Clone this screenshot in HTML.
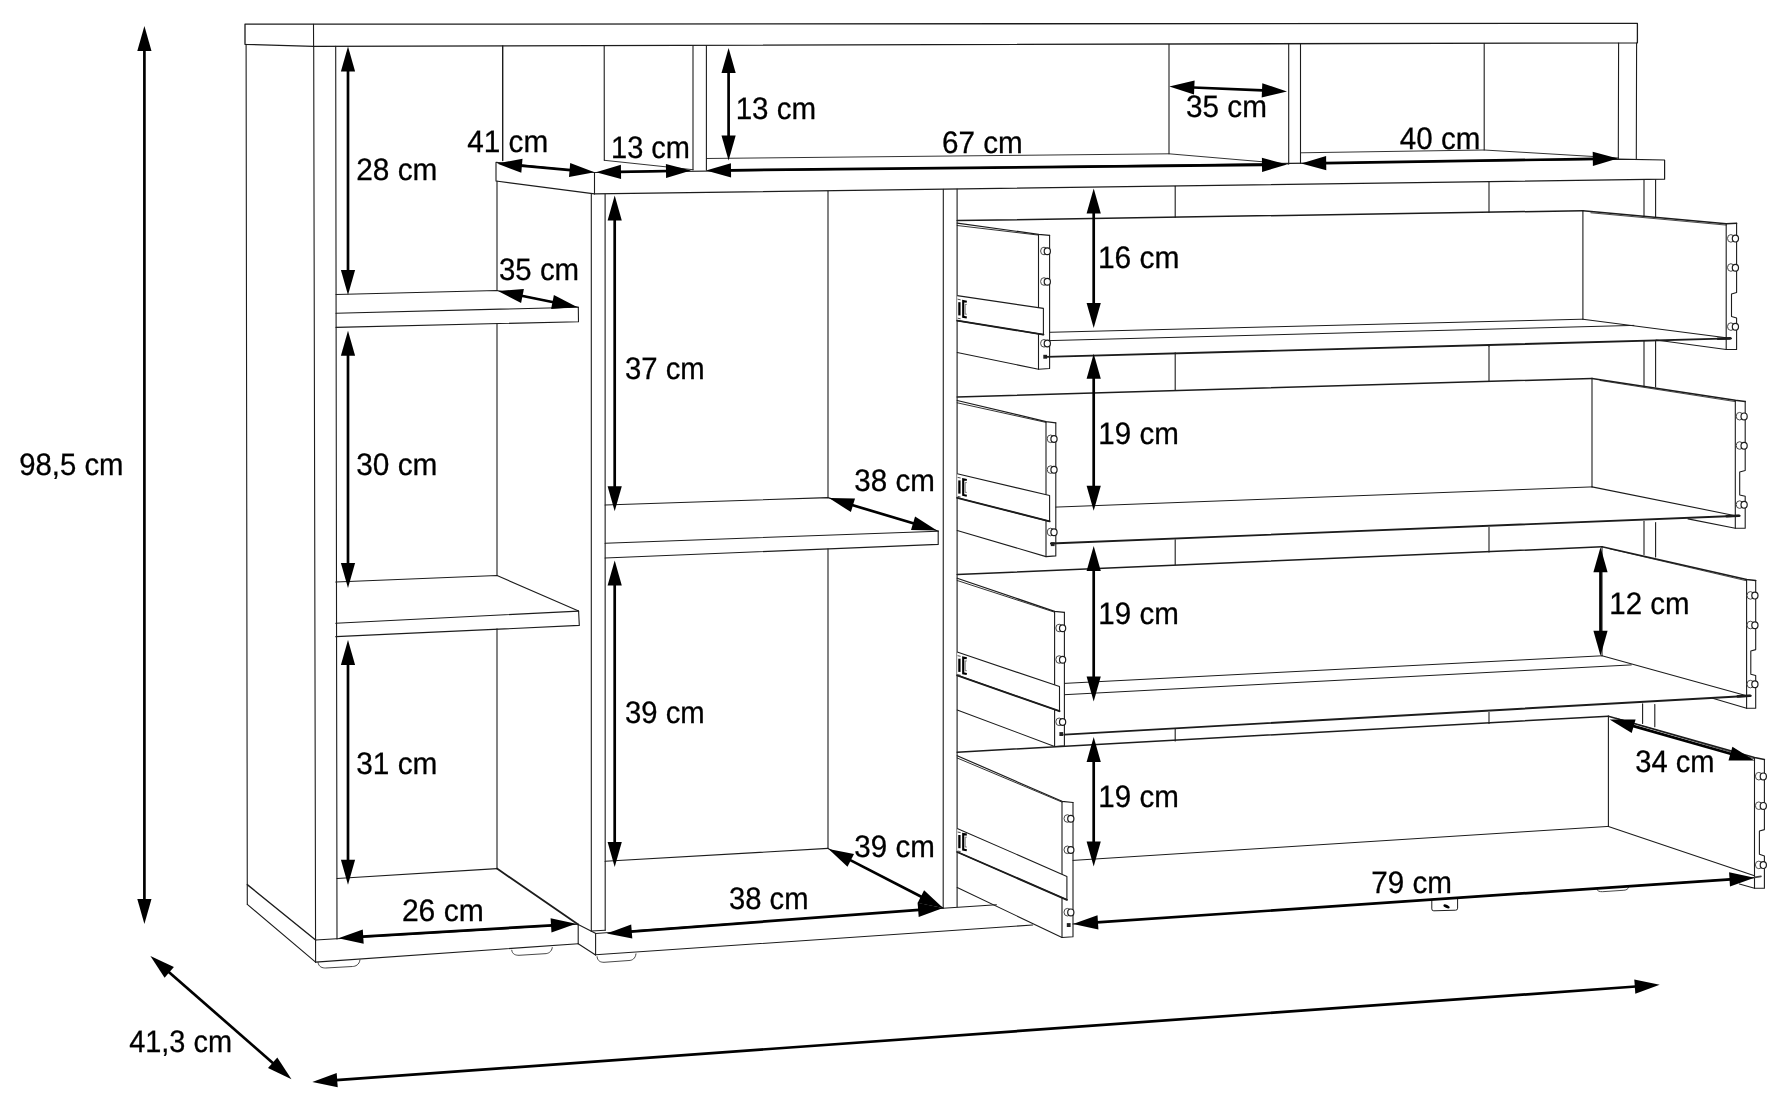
<!DOCTYPE html>
<html><head><meta charset="utf-8"><title>Sideboard dimensions</title>
<style>
html,body{margin:0;padding:0;background:#fff;}
body{width:1788px;height:1108px;overflow:hidden;font-family:"Liberation Sans",sans-serif;}
svg{display:block}
text{font-family:"Liberation Sans",sans-serif;fill:#000;stroke:#000;stroke-width:0.3px;text-rendering:geometricPrecision;}
#labels{filter:grayscale(1)}
</style></head><body>
<svg width="1788" height="1108" viewBox="0 0 1788 1108">
<rect width="1788" height="1108" fill="#fff"/>
<g id="lines">
<path d="M245.0 24.2 L1637.4 23.4 L1637.4 42.8 L313.6 46.3 L245.0 44.3 Z" fill="none" stroke="#1c1c1c" stroke-width="1.3" stroke-linejoin="round" stroke-linecap="round"/>
<line x1="313.5" y1="24.2" x2="313.6" y2="46.3" stroke="#1c1c1c" stroke-width="1.1" stroke-linecap="round"/>
<line x1="246.1" y1="44.3" x2="247.3" y2="904.3" stroke="#1c1c1c" stroke-width="1.1" stroke-linecap="round"/>
<line x1="313.7" y1="46.3" x2="315.6" y2="962.1" stroke="#1c1c1c" stroke-width="1.1" stroke-linecap="round"/>
<line x1="335.7" y1="46.3" x2="337.0" y2="939.0" stroke="#1c1c1c" stroke-width="1.1" stroke-linecap="round"/>
<line x1="247.3" y1="884.6" x2="315.6" y2="940.0" stroke="#1c1c1c" stroke-width="1.4" stroke-linecap="round"/>
<line x1="247.3" y1="904.3" x2="315.6" y2="962.1" stroke="#1c1c1c" stroke-width="1.1" stroke-linecap="round"/>
<line x1="315.6" y1="940.0" x2="578.2" y2="924.3" stroke="#1c1c1c" stroke-width="1.1" stroke-linecap="round"/>
<line x1="315.6" y1="962.1" x2="578.2" y2="943.7" stroke="#1c1c1c" stroke-width="1.1" stroke-linecap="round"/>
<line x1="578.2" y1="924.3" x2="578.2" y2="943.7" stroke="#1c1c1c" stroke-width="1.1" stroke-linecap="round"/>
<path d="M318.0 962.0 C318.5 967.2 322.6 968.0 325.6 968.0 L352.4 966.5 C355.4 966.5 359.5 964.7 360.0 959.5" fill="none" stroke="#333" stroke-width="0.9"/>
<path d="M511.7 949.8 C512.2 954.6 516.0 955.3 519.0 955.3 L545.0 953.7 C548.0 953.7 551.8 952.0 552.3 947.2" fill="none" stroke="#333" stroke-width="0.9"/>
<line x1="578.2" y1="924.5" x2="595.4" y2="933.3" stroke="#1c1c1c" stroke-width="1.1" stroke-linecap="round"/>
<line x1="578.2" y1="943.7" x2="595.6" y2="955.0" stroke="#1c1c1c" stroke-width="1.1" stroke-linecap="round"/>
<line x1="502.7" y1="46.0" x2="502.7" y2="160.5" stroke="#1c1c1c" stroke-width="1.4" stroke-linecap="round"/>
<line x1="497.0" y1="181.0" x2="497.0" y2="290.5" stroke="#1c1c1c" stroke-width="1.1" stroke-linecap="round"/>
<line x1="497.0" y1="323.6" x2="497.0" y2="575.5" stroke="#1c1c1c" stroke-width="1.1" stroke-linecap="round"/>
<line x1="497.0" y1="628.9" x2="497.0" y2="868.6" stroke="#1c1c1c" stroke-width="1.1" stroke-linecap="round"/>
<line x1="591.3" y1="194.0" x2="591.3" y2="931.0" stroke="#1c1c1c" stroke-width="1.1" stroke-linecap="round"/>
<line x1="605.1" y1="194.3" x2="605.2" y2="930.2" stroke="#1c1c1c" stroke-width="1.1" stroke-linecap="round"/>
<line x1="591.3" y1="931.0" x2="605.2" y2="930.2" stroke="#1c1c1c" stroke-width="1.1" stroke-linecap="round"/>
<path d="M336.0 294.5 L497.0 290.5 L578.3 307.2" fill="none" stroke="#1c1c1c" stroke-width="1.1" stroke-linejoin="round" stroke-linecap="round"/>
<line x1="336.0" y1="313.3" x2="578.3" y2="307.2" stroke="#1c1c1c" stroke-width="1.1" stroke-linecap="round"/>
<path d="M336.0 327.4 L578.5 321.7 L578.3 307.2" fill="none" stroke="#1c1c1c" stroke-width="1.1" stroke-linejoin="round" stroke-linecap="round"/>
<path d="M335.8 582.0 L497.0 575.5 L578.6 611.1" fill="none" stroke="#1c1c1c" stroke-width="1.1" stroke-linejoin="round" stroke-linecap="round"/>
<line x1="335.8" y1="623.2" x2="578.6" y2="611.1" stroke="#1c1c1c" stroke-width="1.1" stroke-linecap="round"/>
<path d="M335.8 636.6 L579.3 625.4 L578.6 611.1" fill="none" stroke="#1c1c1c" stroke-width="1.1" stroke-linejoin="round" stroke-linecap="round"/>
<line x1="337.0" y1="878.5" x2="497.0" y2="868.6" stroke="#1c1c1c" stroke-width="1.1" stroke-linecap="round"/>
<line x1="497.0" y1="868.6" x2="578.2" y2="924.5" stroke="#1c1c1c" stroke-width="1.8" stroke-linecap="round"/>
<path d="M496.0 162.2 L594.5 172.5 L594.5 193.9 L496.0 181.0 Z" fill="none" stroke="#1c1c1c" stroke-width="1.1" stroke-linejoin="round" stroke-linecap="round"/>
<path d="M594.5 172.5 L1618.0 159.2 L1664.6 160.0 L1664.6 179.2 L594.5 193.9" fill="none" stroke="#1c1c1c" stroke-width="1.2" stroke-linejoin="round" stroke-linecap="round"/>
<line x1="693.0" y1="45.6" x2="693.0" y2="169.7" stroke="#1c1c1c" stroke-width="1.1" stroke-linecap="round"/>
<line x1="706.4" y1="45.6" x2="706.4" y2="170.3" stroke="#1c1c1c" stroke-width="1.1" stroke-linecap="round"/>
<line x1="1288.7" y1="44.0" x2="1288.7" y2="164.0" stroke="#1c1c1c" stroke-width="1.1" stroke-linecap="round"/>
<line x1="1300.5" y1="44.0" x2="1300.5" y2="163.5" stroke="#1c1c1c" stroke-width="1.1" stroke-linecap="round"/>
<line x1="1618.6" y1="43.0" x2="1618.3" y2="159.0" stroke="#1c1c1c" stroke-width="1.1" stroke-linecap="round"/>
<line x1="1636.6" y1="43.0" x2="1636.3" y2="158.6" stroke="#1c1c1c" stroke-width="1.1" stroke-linecap="round"/>
<line x1="604.2" y1="45.6" x2="604.3" y2="160.3" stroke="#1c1c1c" stroke-width="1.1" stroke-linecap="round"/>
<line x1="1169.0" y1="44.5" x2="1169.0" y2="153.8" stroke="#1c1c1c" stroke-width="1.1" stroke-linecap="round"/>
<line x1="1484.2" y1="43.5" x2="1484.2" y2="150.0" stroke="#1c1c1c" stroke-width="1.1" stroke-linecap="round"/>
<line x1="604.3" y1="160.3" x2="693.0" y2="169.7" stroke="#1c1c1c" stroke-width="0.9" stroke-linecap="round"/>
<path d="M706.4 158.5 L1169.0 153.8 L1288.7 164.0" fill="none" stroke="#1c1c1c" stroke-width="0.9" stroke-linejoin="round" stroke-linecap="round"/>
<path d="M1301.0 152.8 L1484.2 150.0 L1618.5 158.0" fill="none" stroke="#1c1c1c" stroke-width="0.9" stroke-linejoin="round" stroke-linecap="round"/>
<line x1="828.0" y1="191.4" x2="828.0" y2="497.6" stroke="#1c1c1c" stroke-width="1.1" stroke-linecap="round"/>
<line x1="828.0" y1="548.9" x2="828.0" y2="848.4" stroke="#1c1c1c" stroke-width="1.1" stroke-linecap="round"/>
<path d="M605.1 505.0 L828.0 497.6 L938.2 531.0" fill="none" stroke="#1c1c1c" stroke-width="1.1" stroke-linejoin="round" stroke-linecap="round"/>
<line x1="605.1" y1="543.2" x2="938.2" y2="531.2" stroke="#1c1c1c" stroke-width="1.1" stroke-linecap="round"/>
<path d="M605.1 558.0 L938.2 544.4 L938.2 531.0" fill="none" stroke="#1c1c1c" stroke-width="1.1" stroke-linejoin="round" stroke-linecap="round"/>
<line x1="605.1" y1="861.2" x2="828.0" y2="848.4" stroke="#1c1c1c" stroke-width="1.1" stroke-linecap="round"/>
<line x1="828.0" y1="848.4" x2="943.1" y2="908.0" stroke="#1c1c1c" stroke-width="1.1" stroke-linecap="round"/>
<line x1="943.3" y1="189.2" x2="943.2" y2="908.3" stroke="#1c1c1c" stroke-width="1.1" stroke-linecap="round"/>
<line x1="957.1" y1="189.0" x2="957.1" y2="906.8" stroke="#1c1c1c" stroke-width="1.1" stroke-linecap="round"/>
<line x1="595.6" y1="933.5" x2="595.6" y2="955.0" stroke="#1c1c1c" stroke-width="1.1" stroke-linecap="round"/>
<line x1="595.6" y1="933.5" x2="943.0" y2="908.3" stroke="#1c1c1c" stroke-width="1.1" stroke-linecap="round"/>
<line x1="943.0" y1="908.3" x2="996.4" y2="904.7" stroke="#1c1c1c" stroke-width="1.1" stroke-linecap="round"/>
<line x1="595.6" y1="954.8" x2="1032.7" y2="925.0" stroke="#1c1c1c" stroke-width="1.1" stroke-linecap="round"/>
<path d="M597.0 956.3 C597.5 961.5 601.0 962.3 604.0 962.3 L629.0 960.5 C632.0 960.5 635.5 958.7 636.0 953.5" fill="none" stroke="#333" stroke-width="0.9"/>
<line x1="1644.0" y1="180.0" x2="1644.0" y2="216.0" stroke="#1c1c1c" stroke-width="1.1" stroke-linecap="round"/>
<line x1="1655.6" y1="179.7" x2="1655.6" y2="217.0" stroke="#1c1c1c" stroke-width="1.1" stroke-linecap="round"/>
<line x1="1644.0" y1="341.4" x2="1644.0" y2="385.7" stroke="#1c1c1c" stroke-width="1.1" stroke-linecap="round"/>
<line x1="1655.6" y1="341.4" x2="1655.6" y2="387.0" stroke="#1c1c1c" stroke-width="1.1" stroke-linecap="round"/>
<line x1="1644.0" y1="521.4" x2="1644.0" y2="554.6" stroke="#1c1c1c" stroke-width="1.1" stroke-linecap="round"/>
<line x1="1655.6" y1="522.6" x2="1655.6" y2="557.0" stroke="#1c1c1c" stroke-width="1.1" stroke-linecap="round"/>
<line x1="1642.6" y1="703.8" x2="1642.6" y2="723.5" stroke="#1c1c1c" stroke-width="1.1" stroke-linecap="round"/>
<line x1="1654.8" y1="704.6" x2="1654.8" y2="726.7" stroke="#1c1c1c" stroke-width="1.1" stroke-linecap="round"/>
<line x1="1175.2" y1="186.3" x2="1175.2" y2="217.2" stroke="#1c1c1c" stroke-width="1.1" stroke-linecap="round"/>
<line x1="1175.2" y1="352.8" x2="1175.2" y2="390.4" stroke="#1c1c1c" stroke-width="1.1" stroke-linecap="round"/>
<line x1="1175.2" y1="539.8" x2="1175.2" y2="564.8" stroke="#1c1c1c" stroke-width="1.1" stroke-linecap="round"/>
<line x1="1175.2" y1="728.5" x2="1175.2" y2="741.0" stroke="#1c1c1c" stroke-width="1.1" stroke-linecap="round"/>
<line x1="1489.0" y1="182.0" x2="1489.0" y2="212.2" stroke="#1c1c1c" stroke-width="1.1" stroke-linecap="round"/>
<line x1="1489.0" y1="346.3" x2="1489.0" y2="381.5" stroke="#1c1c1c" stroke-width="1.1" stroke-linecap="round"/>
<line x1="1489.0" y1="527.5" x2="1489.0" y2="552.0" stroke="#1c1c1c" stroke-width="1.1" stroke-linecap="round"/>
<line x1="1489.0" y1="712.5" x2="1489.0" y2="723.5" stroke="#1c1c1c" stroke-width="1.1" stroke-linecap="round"/>
<path d="M957.2 220.6 L1582.9 210.7" fill="none" stroke="#1c1c1c" stroke-width="1.5" stroke-linejoin="round" stroke-linecap="round"/>
<line x1="1582.9" y1="210.7" x2="1582.9" y2="319.2" stroke="#1c1c1c" stroke-width="1.1" stroke-linecap="round"/>
<path d="M957.2 223.2 L1038.5 234.3 L1049.6 235.4" fill="none" stroke="#1c1c1c" stroke-width="1.2" stroke-linejoin="round" stroke-linecap="round"/>
<line x1="957.2" y1="225.5" x2="1038.5" y2="235.1" stroke="#1c1c1c" stroke-width="0.9" stroke-linecap="round"/>
<path d="M1038.5 234.3 L1038.5 369.2 L1049.6 368.5 L1049.6 235.4" fill="none" stroke="#1c1c1c" stroke-width="1.1" stroke-linejoin="round" stroke-linecap="round"/>
<ellipse cx="1044.0" cy="251.0" rx="3.4" ry="3.8" fill="#fff" stroke="#4a4a4a" stroke-width="1"/>
<ellipse cx="1047.3" cy="251.2" rx="3.1" ry="3.4" fill="#fff" stroke="#1c1c1c" stroke-width="1.2"/>
<ellipse cx="1044.0" cy="281.5" rx="3.4" ry="3.8" fill="#fff" stroke="#4a4a4a" stroke-width="1"/>
<ellipse cx="1047.3" cy="281.7" rx="3.1" ry="3.4" fill="#fff" stroke="#1c1c1c" stroke-width="1.2"/>
<ellipse cx="1044.0" cy="343.3" rx="3.4" ry="3.8" fill="#fff" stroke="#4a4a4a" stroke-width="1"/>
<ellipse cx="1047.3" cy="343.5" rx="3.1" ry="3.4" fill="#fff" stroke="#1c1c1c" stroke-width="1.2"/>
<path d="M957.2 295.6 L1043.4 308.4 L1043.4 334.6 L957.2 320.6" fill="#fff" stroke="#1c1c1c" stroke-width="1.1" stroke-linejoin="round"/>
<line x1="957.2" y1="320.6" x2="1043.4" y2="334.6" stroke="#1c1c1c" stroke-width="1.9" stroke-linecap="round"/>
<path d="M959.4 302.2 v13.2" fill="none" stroke="#000" stroke-width="2.3"/>
<path d="M966.8 301.8 L963.2 301.1 V316.8 L966.8 317.5" fill="none" stroke="#000" stroke-width="2.1"/>
<path d="M966.8 304.4 H965.2 V314.2 H966.8" fill="none" stroke="#444" stroke-width="0.7"/>
<path d="M957.6 299.2 l3 0.6 M957.6 318.2 l3 0.6" fill="none" stroke="#333" stroke-width="0.9"/>
<line x1="957.2" y1="352.5" x2="1038.5" y2="369.2" stroke="#1c1c1c" stroke-width="1.1" stroke-linecap="round"/>
<rect x="1043.3" y="354.8" width="3.8" height="3.9" fill="#222"/>
<line x1="1049.6" y1="332.3" x2="1582.9" y2="319.2" stroke="#1c1c1c" stroke-width="1" stroke-linecap="round"/>
<line x1="1049.6" y1="340.6" x2="1633.8" y2="325.4" stroke="#1c1c1c" stroke-width="1" stroke-linecap="round"/>
<line x1="1046.0" y1="356.9" x2="1731.0" y2="338.4" stroke="#1c1c1c" stroke-width="1.9" stroke-linecap="round"/>
<line x1="1718.0" y1="338.8" x2="1730.0" y2="338.4" stroke="#1c1c1c" stroke-width="2.6" stroke-linecap="round"/>
<path d="M1582.9 210.7 L1726.2 223.7 L1736.6 223.3" fill="none" stroke="#1c1c1c" stroke-width="1.5" stroke-linejoin="round" stroke-linecap="round"/>
<line x1="1590.9" y1="212.8" x2="1726.2" y2="225.1" stroke="#1c1c1c" stroke-width="0.8" stroke-linecap="round"/>
<path d="M1726.2 223.7 L1726.2 349.5 L1736.6 349.5 L1736.6 318.0 L1731.5 316.5 L1731.5 294.0 L1736.6 292.5 L1736.6 223.3" fill="none" stroke="#1c1c1c" stroke-width="1.1" stroke-linejoin="round" stroke-linecap="round"/>
<ellipse cx="1730.9" cy="238.4" rx="3.4" ry="3.8" fill="#fff" stroke="#4a4a4a" stroke-width="1"/>
<ellipse cx="1735.4" cy="238.6" rx="3.1" ry="3.4" fill="#fff" stroke="#1c1c1c" stroke-width="1.2"/>
<ellipse cx="1730.9" cy="267.5" rx="3.4" ry="3.8" fill="#fff" stroke="#4a4a4a" stroke-width="1"/>
<ellipse cx="1735.4" cy="267.7" rx="3.1" ry="3.4" fill="#fff" stroke="#1c1c1c" stroke-width="1.2"/>
<ellipse cx="1730.9" cy="326.6" rx="3.4" ry="3.8" fill="#fff" stroke="#4a4a4a" stroke-width="1"/>
<ellipse cx="1735.4" cy="326.8" rx="3.1" ry="3.4" fill="#fff" stroke="#1c1c1c" stroke-width="1.2"/>
<line x1="1582.9" y1="319.2" x2="1726.2" y2="337.7" stroke="#1c1c1c" stroke-width="1.1" stroke-linecap="round"/>
<line x1="1656.0" y1="340.0" x2="1726.2" y2="349.5" stroke="#1c1c1c" stroke-width="1.1" stroke-linecap="round"/>
<path d="M957.2 397.0 L1592.0 378.4" fill="none" stroke="#1c1c1c" stroke-width="1.5" stroke-linejoin="round" stroke-linecap="round"/>
<line x1="1592.0" y1="378.4" x2="1592.0" y2="486.9" stroke="#1c1c1c" stroke-width="1.1" stroke-linecap="round"/>
<path d="M957.2 400.5 L1046.0 421.6 L1055.8 422.8" fill="none" stroke="#1c1c1c" stroke-width="1.2" stroke-linejoin="round" stroke-linecap="round"/>
<line x1="957.2" y1="402.8" x2="1046.0" y2="422.4" stroke="#1c1c1c" stroke-width="0.9" stroke-linecap="round"/>
<path d="M1046.0 421.6 L1046.0 556.6 L1055.8 555.9 L1055.8 422.8" fill="none" stroke="#1c1c1c" stroke-width="1.1" stroke-linejoin="round" stroke-linecap="round"/>
<ellipse cx="1050.6" cy="438.8" rx="3.4" ry="3.8" fill="#fff" stroke="#4a4a4a" stroke-width="1"/>
<ellipse cx="1054.0" cy="439.0" rx="3.1" ry="3.4" fill="#fff" stroke="#1c1c1c" stroke-width="1.2"/>
<ellipse cx="1050.6" cy="469.6" rx="3.4" ry="3.8" fill="#fff" stroke="#4a4a4a" stroke-width="1"/>
<ellipse cx="1054.0" cy="469.8" rx="3.1" ry="3.4" fill="#fff" stroke="#1c1c1c" stroke-width="1.2"/>
<ellipse cx="1050.6" cy="532.0" rx="3.4" ry="3.8" fill="#fff" stroke="#4a4a4a" stroke-width="1"/>
<ellipse cx="1054.0" cy="532.2" rx="3.1" ry="3.4" fill="#fff" stroke="#1c1c1c" stroke-width="1.2"/>
<path d="M957.2 473.8 L1049.6 495.5 L1049.6 521.4 L957.2 497.8" fill="#fff" stroke="#1c1c1c" stroke-width="1.1" stroke-linejoin="round"/>
<line x1="957.2" y1="497.8" x2="1049.6" y2="521.4" stroke="#1c1c1c" stroke-width="1.9" stroke-linecap="round"/>
<path d="M959.4 480.4 v13.2" fill="none" stroke="#000" stroke-width="2.3"/>
<path d="M966.8 480.0 L963.2 479.3 V495.0 L966.8 495.7" fill="none" stroke="#000" stroke-width="2.1"/>
<path d="M966.8 482.6 H965.2 V492.4 H966.8" fill="none" stroke="#444" stroke-width="0.7"/>
<path d="M957.6 477.4 l3 0.6 M957.6 496.4 l3 0.6" fill="none" stroke="#333" stroke-width="0.9"/>
<line x1="957.2" y1="530.5" x2="1046.0" y2="556.6" stroke="#1c1c1c" stroke-width="1.1" stroke-linecap="round"/>
<rect x="1050.8" y="542.2" width="3.8" height="3.9" fill="#222"/>
<line x1="1055.8" y1="507.1" x2="1592.0" y2="486.9" stroke="#1c1c1c" stroke-width="1" stroke-linecap="round"/>
<line x1="1050.9" y1="543.5" x2="1739.7" y2="515.7" stroke="#1c1c1c" stroke-width="1.9" stroke-linecap="round"/>
<line x1="1726.7" y1="516.2" x2="1738.7" y2="515.7" stroke="#1c1c1c" stroke-width="2.6" stroke-linecap="round"/>
<path d="M1592.0 378.4 L1735.3 400.2 L1745.2 401.4" fill="none" stroke="#1c1c1c" stroke-width="1.5" stroke-linejoin="round" stroke-linecap="round"/>
<line x1="1600.0" y1="380.5" x2="1735.3" y2="401.6" stroke="#1c1c1c" stroke-width="0.8" stroke-linecap="round"/>
<path d="M1735.3 400.2 L1735.3 528.3 L1745.2 528.3 L1745.2 496.3 L1739.7 495.0 L1739.7 472.0 L1745.2 470.5 L1745.2 401.4" fill="none" stroke="#1c1c1c" stroke-width="1.1" stroke-linejoin="round" stroke-linecap="round"/>
<ellipse cx="1739.6" cy="416.2" rx="3.4" ry="3.8" fill="#fff" stroke="#4a4a4a" stroke-width="1"/>
<ellipse cx="1744.1" cy="416.4" rx="3.1" ry="3.4" fill="#fff" stroke="#1c1c1c" stroke-width="1.2"/>
<ellipse cx="1739.6" cy="445.5" rx="3.4" ry="3.8" fill="#fff" stroke="#4a4a4a" stroke-width="1"/>
<ellipse cx="1744.1" cy="445.7" rx="3.1" ry="3.4" fill="#fff" stroke="#1c1c1c" stroke-width="1.2"/>
<ellipse cx="1739.6" cy="504.6" rx="3.4" ry="3.8" fill="#fff" stroke="#4a4a4a" stroke-width="1"/>
<ellipse cx="1744.1" cy="504.8" rx="3.1" ry="3.4" fill="#fff" stroke="#1c1c1c" stroke-width="1.2"/>
<line x1="1592.0" y1="486.9" x2="1735.3" y2="515.7" stroke="#1c1c1c" stroke-width="1.1" stroke-linecap="round"/>
<line x1="1688.0" y1="518.9" x2="1735.3" y2="528.3" stroke="#1c1c1c" stroke-width="1.1" stroke-linecap="round"/>
<path d="M957.2 574.5 L1602.0 546.8" fill="none" stroke="#1c1c1c" stroke-width="1.5" stroke-linejoin="round" stroke-linecap="round"/>
<line x1="1602.0" y1="546.8" x2="1602.0" y2="655.8" stroke="#1c1c1c" stroke-width="1.1" stroke-linecap="round"/>
<path d="M957.2 578.2 L1054.6 611.4 L1064.4 612.3" fill="none" stroke="#1c1c1c" stroke-width="1.2" stroke-linejoin="round" stroke-linecap="round"/>
<line x1="957.2" y1="580.5" x2="1054.6" y2="612.2" stroke="#1c1c1c" stroke-width="0.9" stroke-linecap="round"/>
<path d="M1054.6 611.4 L1054.6 746.5 L1064.4 745.8 L1064.4 612.3" fill="none" stroke="#1c1c1c" stroke-width="1.1" stroke-linejoin="round" stroke-linecap="round"/>
<ellipse cx="1059.2" cy="628.0" rx="3.4" ry="3.8" fill="#fff" stroke="#4a4a4a" stroke-width="1"/>
<ellipse cx="1062.6" cy="628.2" rx="3.1" ry="3.4" fill="#fff" stroke="#1c1c1c" stroke-width="1.2"/>
<ellipse cx="1059.2" cy="659.5" rx="3.4" ry="3.8" fill="#fff" stroke="#4a4a4a" stroke-width="1"/>
<ellipse cx="1062.6" cy="659.7" rx="3.1" ry="3.4" fill="#fff" stroke="#1c1c1c" stroke-width="1.2"/>
<ellipse cx="1059.2" cy="721.8" rx="3.4" ry="3.8" fill="#fff" stroke="#4a4a4a" stroke-width="1"/>
<ellipse cx="1062.6" cy="722.0" rx="3.1" ry="3.4" fill="#fff" stroke="#1c1c1c" stroke-width="1.2"/>
<path d="M957.2 652.1 L1059.5 686.6 L1059.5 711.2 L957.2 675.3" fill="#fff" stroke="#1c1c1c" stroke-width="1.1" stroke-linejoin="round"/>
<line x1="957.2" y1="675.3" x2="1059.5" y2="711.2" stroke="#1c1c1c" stroke-width="1.9" stroke-linecap="round"/>
<path d="M959.4 658.7 v13.2" fill="none" stroke="#000" stroke-width="2.3"/>
<path d="M966.8 658.3 L963.2 657.6 V673.3 L966.8 674.0" fill="none" stroke="#000" stroke-width="2.1"/>
<path d="M966.8 660.9 H965.2 V670.7 H966.8" fill="none" stroke="#444" stroke-width="0.7"/>
<path d="M957.6 655.7 l3 0.6 M957.6 674.7 l3 0.6" fill="none" stroke="#333" stroke-width="0.9"/>
<line x1="957.2" y1="710.0" x2="1054.6" y2="746.5" stroke="#1c1c1c" stroke-width="1.1" stroke-linecap="round"/>
<rect x="1059.4" y="732.1" width="3.8" height="3.9" fill="#222"/>
<line x1="1064.4" y1="683.4" x2="1602.0" y2="655.8" stroke="#1c1c1c" stroke-width="1" stroke-linecap="round"/>
<line x1="1064.4" y1="694.7" x2="1631.3" y2="664.9" stroke="#1c1c1c" stroke-width="1" stroke-linecap="round"/>
<line x1="1064.4" y1="734.6" x2="1750.8" y2="695.7" stroke="#1c1c1c" stroke-width="1.9" stroke-linecap="round"/>
<line x1="1737.8" y1="696.4" x2="1749.8" y2="695.8" stroke="#1c1c1c" stroke-width="2.6" stroke-linecap="round"/>
<path d="M1602.0 546.8 L1746.6 579.4 L1755.7 580.5" fill="none" stroke="#1c1c1c" stroke-width="1.5" stroke-linejoin="round" stroke-linecap="round"/>
<line x1="1610.0" y1="548.9" x2="1746.6" y2="580.8" stroke="#1c1c1c" stroke-width="0.8" stroke-linecap="round"/>
<path d="M1746.6 579.4 L1746.6 708.3 L1755.7 708.3 L1755.7 675.5 L1750.8 674.3 L1750.8 651.0 L1755.7 649.6 L1755.7 580.5" fill="none" stroke="#1c1c1c" stroke-width="1.1" stroke-linejoin="round" stroke-linecap="round"/>
<ellipse cx="1750.4" cy="595.4" rx="3.4" ry="3.8" fill="#fff" stroke="#4a4a4a" stroke-width="1"/>
<ellipse cx="1754.9" cy="595.6" rx="3.1" ry="3.4" fill="#fff" stroke="#1c1c1c" stroke-width="1.2"/>
<ellipse cx="1750.4" cy="625.0" rx="3.4" ry="3.8" fill="#fff" stroke="#4a4a4a" stroke-width="1"/>
<ellipse cx="1754.9" cy="625.2" rx="3.1" ry="3.4" fill="#fff" stroke="#1c1c1c" stroke-width="1.2"/>
<ellipse cx="1750.4" cy="684.1" rx="3.4" ry="3.8" fill="#fff" stroke="#4a4a4a" stroke-width="1"/>
<ellipse cx="1754.9" cy="684.3" rx="3.1" ry="3.4" fill="#fff" stroke="#1c1c1c" stroke-width="1.2"/>
<line x1="1602.0" y1="655.8" x2="1746.6" y2="695.7" stroke="#1c1c1c" stroke-width="1.1" stroke-linecap="round"/>
<line x1="1712.6" y1="698.2" x2="1746.6" y2="708.3" stroke="#1c1c1c" stroke-width="1.1" stroke-linecap="round"/>
<path d="M957.2 752.2 L1608.4 716.2" fill="none" stroke="#1c1c1c" stroke-width="1.5" stroke-linejoin="round" stroke-linecap="round"/>
<line x1="1608.4" y1="716.2" x2="1608.4" y2="826.4" stroke="#1c1c1c" stroke-width="1.1" stroke-linecap="round"/>
<path d="M957.2 755.7 L1062.0 801.3 L1073.0 802.5" fill="none" stroke="#1c1c1c" stroke-width="1.2" stroke-linejoin="round" stroke-linecap="round"/>
<line x1="957.2" y1="758.0" x2="1062.0" y2="802.1" stroke="#1c1c1c" stroke-width="0.9" stroke-linecap="round"/>
<path d="M1062.0 801.3 L1062.0 937.5 L1073.0 936.8 L1073.0 802.5" fill="none" stroke="#1c1c1c" stroke-width="1.1" stroke-linejoin="round" stroke-linecap="round"/>
<ellipse cx="1067.4" cy="818.5" rx="3.4" ry="3.8" fill="#fff" stroke="#4a4a4a" stroke-width="1"/>
<ellipse cx="1070.8" cy="818.7" rx="3.1" ry="3.4" fill="#fff" stroke="#1c1c1c" stroke-width="1.2"/>
<ellipse cx="1067.4" cy="849.8" rx="3.4" ry="3.8" fill="#fff" stroke="#4a4a4a" stroke-width="1"/>
<ellipse cx="1070.8" cy="850.0" rx="3.1" ry="3.4" fill="#fff" stroke="#1c1c1c" stroke-width="1.2"/>
<ellipse cx="1067.4" cy="912.2" rx="3.4" ry="3.8" fill="#fff" stroke="#4a4a4a" stroke-width="1"/>
<ellipse cx="1070.8" cy="912.4" rx="3.1" ry="3.4" fill="#fff" stroke="#1c1c1c" stroke-width="1.2"/>
<path d="M957.2 828.4 L1066.9 876.4 L1066.9 899.8 L957.2 852.0" fill="#fff" stroke="#1c1c1c" stroke-width="1.1" stroke-linejoin="round"/>
<line x1="957.2" y1="852.0" x2="1066.9" y2="899.8" stroke="#1c1c1c" stroke-width="1.9" stroke-linecap="round"/>
<path d="M959.4 835.0 v13.2" fill="none" stroke="#000" stroke-width="2.3"/>
<path d="M966.8 834.6 L963.2 833.9 V849.6 L966.8 850.3" fill="none" stroke="#000" stroke-width="2.1"/>
<path d="M966.8 837.2 H965.2 V847.0 H966.8" fill="none" stroke="#444" stroke-width="0.7"/>
<path d="M957.6 832.0 l3 0.6 M957.6 851.0 l3 0.6" fill="none" stroke="#333" stroke-width="0.9"/>
<line x1="957.2" y1="887.5" x2="1062.0" y2="937.5" stroke="#1c1c1c" stroke-width="1.1" stroke-linecap="round"/>
<rect x="1066.8" y="923.1" width="3.8" height="3.9" fill="#222"/>
<line x1="1073.0" y1="860.4" x2="1608.4" y2="826.4" stroke="#1c1c1c" stroke-width="1" stroke-linecap="round"/>
<line x1="1073.0" y1="924.0" x2="1754.5" y2="877.7" stroke="#1c1c1c" stroke-width="1.2" stroke-linecap="round"/>
<path d="M1608.4 716.2 L1754.5 757.5 L1764.4 759.5" fill="none" stroke="#1c1c1c" stroke-width="1.5" stroke-linejoin="round" stroke-linecap="round"/>
<line x1="1616.4" y1="718.3" x2="1754.5" y2="758.9" stroke="#1c1c1c" stroke-width="0.8" stroke-linecap="round"/>
<path d="M1754.5 757.5 L1754.5 888.3 L1764.4 888.3 L1764.4 856.0 L1759.4 854.3 L1759.4 831.0 L1764.4 829.6 L1764.4 759.5" fill="none" stroke="#1c1c1c" stroke-width="1.1" stroke-linejoin="round" stroke-linecap="round"/>
<ellipse cx="1758.8" cy="776.2" rx="3.4" ry="3.8" fill="#fff" stroke="#4a4a4a" stroke-width="1"/>
<ellipse cx="1763.3" cy="776.4" rx="3.1" ry="3.4" fill="#fff" stroke="#1c1c1c" stroke-width="1.2"/>
<ellipse cx="1758.8" cy="805.7" rx="3.4" ry="3.8" fill="#fff" stroke="#4a4a4a" stroke-width="1"/>
<ellipse cx="1763.3" cy="805.9" rx="3.1" ry="3.4" fill="#fff" stroke="#1c1c1c" stroke-width="1.2"/>
<ellipse cx="1758.8" cy="864.9" rx="3.4" ry="3.8" fill="#fff" stroke="#4a4a4a" stroke-width="1"/>
<ellipse cx="1763.3" cy="865.1" rx="3.1" ry="3.4" fill="#fff" stroke="#1c1c1c" stroke-width="1.2"/>
<line x1="1608.4" y1="826.4" x2="1754.5" y2="875.7" stroke="#1c1c1c" stroke-width="1.1" stroke-linecap="round"/>
<line x1="1739.4" y1="884.0" x2="1754.5" y2="888.3" stroke="#1c1c1c" stroke-width="1.1" stroke-linecap="round"/>
<line x1="1754.5" y1="877.4" x2="1761.0" y2="876.4" stroke="#444" stroke-width="1.6" stroke-linecap="round"/>
<path d="M1596.8 888.6 C1597.3 891.4 1599.6 891.7 1602.6 891.7 L1623.1 890.3 C1626.1 890.3 1628.4 889.2 1628.9 886.4" fill="none" stroke="#333" stroke-width="0.9"/>
<path d="M1431.8 900.3 V908.9 Q1431.8 910.9 1433.8 910.8 L1455.6 910.2 Q1457.6 910.2 1457.6 908.2 V899" fill="#fff" stroke="#1c1c1c" stroke-width="1"/>
<ellipse cx="1446.5" cy="906.3" rx="3.4" ry="1.5" transform="rotate(25 1446.5 906.5)" fill="#000"/>
<line x1="144.4" y1="50.0" x2="144.4" y2="900.0" stroke="#000" stroke-width="2.7"/>
<polygon points="144.4,26.0 137.3,51.0 151.5,51.0" fill="#000"/>
<polygon points="144.4,924.0 137.3,899.0 151.5,899.0" fill="#000"/>
<line x1="168.5" y1="971.8" x2="273.4" y2="1063.4" stroke="#000" stroke-width="2.7"/>
<polygon points="150.4,956.0 164.6,977.8 173.9,967.1" fill="#000"/>
<polygon points="291.5,1079.2 268.0,1068.1 277.3,1057.4" fill="#000"/>
<line x1="336.2" y1="1080.2" x2="1635.8" y2="986.5" stroke="#000" stroke-width="2.7"/>
<polygon points="312.3,1081.9 337.7,1087.2 336.7,1073.0" fill="#000"/>
<polygon points="1659.7,984.8 1635.3,993.7 1634.3,979.5" fill="#000"/>
<line x1="348.0" y1="70.4" x2="348.0" y2="271.0" stroke="#000" stroke-width="2.7"/>
<polygon points="348.0,46.4 340.9,71.4 355.1,71.4" fill="#000"/>
<polygon points="348.0,295.0 340.9,270.0 355.1,270.0" fill="#000"/>
<line x1="348.0" y1="354.7" x2="348.0" y2="564.0" stroke="#000" stroke-width="2.7"/>
<polygon points="348.0,330.7 340.9,355.7 355.1,355.7" fill="#000"/>
<polygon points="348.0,588.0 340.9,563.0 355.1,563.0" fill="#000"/>
<line x1="348.0" y1="664.0" x2="348.0" y2="860.8" stroke="#000" stroke-width="2.7"/>
<polygon points="348.0,640.0 340.9,665.0 355.1,665.0" fill="#000"/>
<polygon points="348.0,884.8 340.9,859.8 355.1,859.8" fill="#000"/>
<line x1="362.3" y1="936.7" x2="552.0" y2="925.3" stroke="#000" stroke-width="2.7"/>
<polygon points="338.3,938.2 363.7,943.8 362.8,929.6" fill="#000"/>
<polygon points="576.0,923.8 551.5,932.4 550.6,918.2" fill="#000"/>
<line x1="520.9" y1="165.7" x2="570.6" y2="170.1" stroke="#000" stroke-width="2.7"/>
<polygon points="497.0,163.5 521.3,172.8 522.5,158.7" fill="#000"/>
<polygon points="594.5,172.3 569.0,177.1 570.2,163.0" fill="#000"/>
<line x1="521.5" y1="295.8" x2="553.5" y2="302.2" stroke="#000" stroke-width="2.7"/>
<polygon points="498.0,291.0 521.1,302.9 523.9,289.0" fill="#000"/>
<polygon points="577.0,307.0 551.1,309.0 553.9,295.1" fill="#000"/>
<line x1="620.0" y1="171.9" x2="667.0" y2="171.0" stroke="#000" stroke-width="2.7"/>
<polygon points="596.0,172.3 621.1,179.0 620.9,164.8" fill="#000"/>
<polygon points="691.0,170.6 666.1,178.1 665.9,163.9" fill="#000"/>
<line x1="728.6" y1="72.0" x2="728.6" y2="136.5" stroke="#000" stroke-width="2.7"/>
<polygon points="728.6,48.0 721.5,73.0 735.7,73.0" fill="#000"/>
<polygon points="728.6,160.5 721.5,135.5 735.7,135.5" fill="#000"/>
<line x1="730.0" y1="170.3" x2="1263.0" y2="164.8" stroke="#000" stroke-width="2.7"/>
<polygon points="706.0,170.6 731.1,177.4 730.9,163.2" fill="#000"/>
<polygon points="1287.0,164.5 1262.1,171.9 1261.9,157.7" fill="#000"/>
<line x1="1193.3" y1="87.5" x2="1263.0" y2="90.4" stroke="#000" stroke-width="2.7"/>
<polygon points="1169.3,86.5 1194.0,94.6 1194.6,80.4" fill="#000"/>
<polygon points="1287.0,91.4 1261.7,97.5 1262.3,83.3" fill="#000"/>
<line x1="1325.2" y1="163.1" x2="1593.8" y2="158.9" stroke="#000" stroke-width="2.7"/>
<polygon points="1301.2,163.5 1326.3,170.2 1326.1,156.0" fill="#000"/>
<polygon points="1617.8,158.5 1592.9,166.0 1592.7,151.8" fill="#000"/>
<line x1="614.7" y1="219.6" x2="614.7" y2="487.2" stroke="#000" stroke-width="2.7"/>
<polygon points="614.7,195.6 607.6,220.6 621.8,220.6" fill="#000"/>
<polygon points="614.7,511.2 607.6,486.2 621.8,486.2" fill="#000"/>
<line x1="614.7" y1="584.4" x2="614.7" y2="842.9" stroke="#000" stroke-width="2.7"/>
<polygon points="614.7,560.4 607.6,585.4 621.8,585.4" fill="#000"/>
<polygon points="614.7,866.9 607.6,841.9 621.8,841.9" fill="#000"/>
<line x1="852.0" y1="505.0" x2="914.0" y2="523.5" stroke="#000" stroke-width="2.7"/>
<polygon points="829.0,498.1 850.9,512.1 855.0,498.5" fill="#000"/>
<polygon points="937.0,530.4 911.0,530.0 915.1,516.4" fill="#000"/>
<line x1="849.8" y1="859.9" x2="921.8" y2="897.0" stroke="#000" stroke-width="2.7"/>
<polygon points="828.5,848.9 847.5,866.7 854.0,854.0" fill="#000"/>
<polygon points="943.1,908.0 917.6,902.9 924.1,890.2" fill="#000"/>
<line x1="630.7" y1="931.6" x2="919.2" y2="909.8" stroke="#000" stroke-width="2.7"/>
<polygon points="606.8,933.4 632.3,938.6 631.2,924.4" fill="#000"/>
<polygon points="943.1,908.0 918.7,917.0 917.6,902.8" fill="#000"/>
<line x1="1093.7" y1="212.6" x2="1093.7" y2="304.0" stroke="#000" stroke-width="2.7"/>
<polygon points="1093.7,188.6 1086.6,213.6 1100.8,213.6" fill="#000"/>
<polygon points="1093.7,328.0 1086.6,303.0 1100.8,303.0" fill="#000"/>
<line x1="1093.7" y1="377.7" x2="1093.7" y2="486.8" stroke="#000" stroke-width="2.7"/>
<polygon points="1093.7,353.7 1086.6,378.7 1100.8,378.7" fill="#000"/>
<polygon points="1093.7,510.8 1086.6,485.8 1100.8,485.8" fill="#000"/>
<line x1="1093.7" y1="570.0" x2="1093.7" y2="677.4" stroke="#000" stroke-width="2.7"/>
<polygon points="1093.7,546.0 1086.6,571.0 1100.8,571.0" fill="#000"/>
<polygon points="1093.7,701.4 1086.6,676.4 1100.8,676.4" fill="#000"/>
<line x1="1093.7" y1="761.0" x2="1093.7" y2="842.6" stroke="#000" stroke-width="2.7"/>
<polygon points="1093.7,737.0 1086.6,762.0 1100.8,762.0" fill="#000"/>
<polygon points="1093.7,866.6 1086.6,841.6 1100.8,841.6" fill="#000"/>
<line x1="1600.5" y1="571.2" x2="1600.5" y2="631.8" stroke="#000" stroke-width="2.7"/>
<polygon points="1600.5,547.2 1593.4,572.2 1607.6,572.2" fill="#000"/>
<polygon points="1600.5,655.8 1593.4,630.8 1607.6,630.8" fill="#000"/>
<line x1="1632.7" y1="725.9" x2="1731.4" y2="754.0" stroke="#000" stroke-width="2.7"/>
<polygon points="1609.6,719.4 1631.7,733.1 1635.6,719.4" fill="#000"/>
<polygon points="1754.5,760.5 1728.5,760.5 1732.4,746.8" fill="#000"/>
<line x1="1096.9" y1="922.4" x2="1730.6" y2="879.3" stroke="#000" stroke-width="2.7"/>
<polygon points="1073.0,924.0 1098.4,929.4 1097.5,915.2" fill="#000"/>
<polygon points="1754.5,877.7 1730.0,886.5 1729.1,872.3" fill="#000"/>
</g>
<g id="labels">
<text x="19.2" y="474.6" font-size="31" textLength="104.3" lengthAdjust="spacingAndGlyphs">98,5 cm</text>
<text x="129.2" y="1052.4" font-size="31" textLength="102.8" lengthAdjust="spacingAndGlyphs">41,3 cm</text>
<text x="356.3" y="180.4" font-size="31" textLength="81.1" lengthAdjust="spacingAndGlyphs">28 cm</text>
<text x="356.3" y="474.6" font-size="31" textLength="81.1" lengthAdjust="spacingAndGlyphs">30 cm</text>
<text x="356.3" y="774.4" font-size="31" textLength="81.1" lengthAdjust="spacingAndGlyphs">31 cm</text>
<text x="401.9" y="921.1" font-size="31" textLength="81.9" lengthAdjust="spacingAndGlyphs">26 cm</text>
<text x="467.2" y="151.8" font-size="31" textLength="81.0" lengthAdjust="spacingAndGlyphs">41 cm</text>
<text x="499.0" y="279.5" font-size="31" textLength="80.1" lengthAdjust="spacingAndGlyphs">35 cm</text>
<text x="611.1" y="157.8" font-size="31" textLength="78.9" lengthAdjust="spacingAndGlyphs">13 cm</text>
<text x="735.7" y="118.8" font-size="31" textLength="80.4" lengthAdjust="spacingAndGlyphs">13 cm</text>
<text x="942.0" y="152.6" font-size="31" textLength="80.7" lengthAdjust="spacingAndGlyphs">67 cm</text>
<text x="1186.0" y="117.3" font-size="31" textLength="80.9" lengthAdjust="spacingAndGlyphs">35 cm</text>
<text x="1399.8" y="148.6" font-size="31" textLength="80.5" lengthAdjust="spacingAndGlyphs">40 cm</text>
<text x="625.0" y="378.7" font-size="31" textLength="79.7" lengthAdjust="spacingAndGlyphs">37 cm</text>
<text x="625.0" y="722.8" font-size="31" textLength="79.7" lengthAdjust="spacingAndGlyphs">39 cm</text>
<text x="854.3" y="491.0" font-size="31" textLength="80.5" lengthAdjust="spacingAndGlyphs">38 cm</text>
<text x="854.3" y="857.1" font-size="31" textLength="80.5" lengthAdjust="spacingAndGlyphs">39 cm</text>
<text x="729.0" y="908.8" font-size="31" textLength="79.5" lengthAdjust="spacingAndGlyphs">38 cm</text>
<text x="1097.9" y="268.4" font-size="31" textLength="81.6" lengthAdjust="spacingAndGlyphs">16 cm</text>
<text x="1098.3" y="444.1" font-size="31" textLength="80.5" lengthAdjust="spacingAndGlyphs">19 cm</text>
<text x="1098.3" y="624.1" font-size="31" textLength="80.5" lengthAdjust="spacingAndGlyphs">19 cm</text>
<text x="1098.3" y="806.5" font-size="31" textLength="80.5" lengthAdjust="spacingAndGlyphs">19 cm</text>
<text x="1609.3" y="613.8" font-size="31" textLength="80.2" lengthAdjust="spacingAndGlyphs">12 cm</text>
<text x="1635.2" y="772.4" font-size="31" textLength="79.3" lengthAdjust="spacingAndGlyphs">34 cm</text>
<text x="1371.3" y="892.7" font-size="31" textLength="80.7" lengthAdjust="spacingAndGlyphs">79 cm</text>
</g>
</svg>
</body></html>
